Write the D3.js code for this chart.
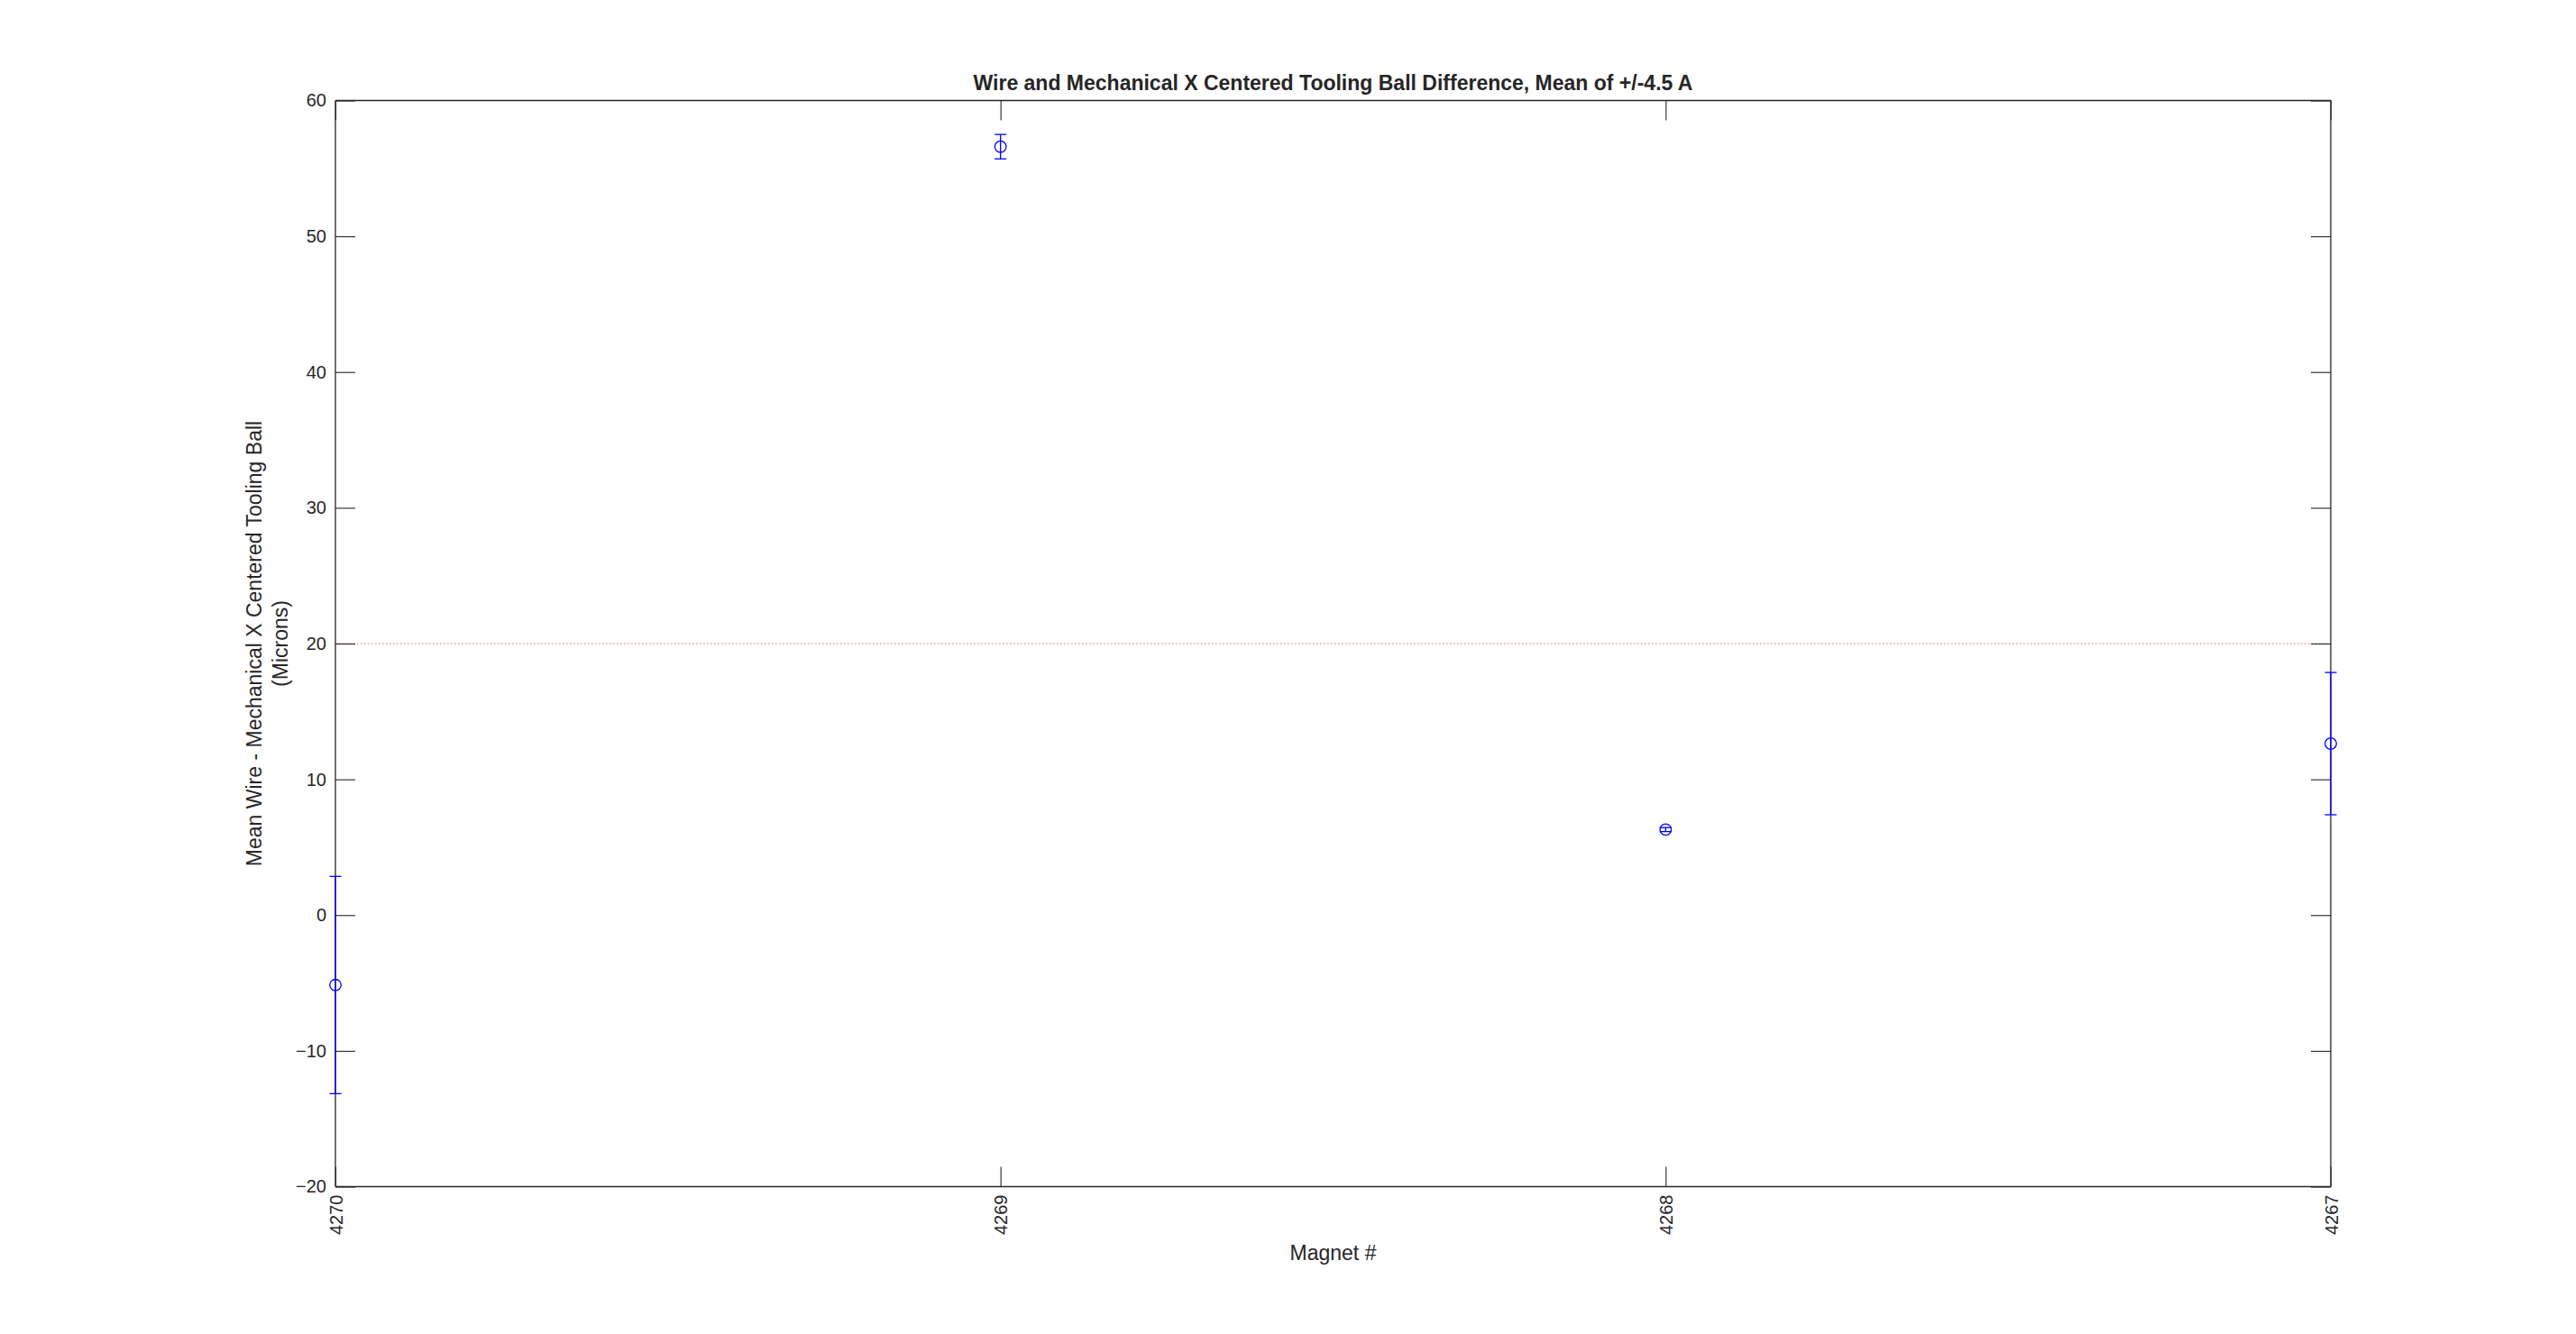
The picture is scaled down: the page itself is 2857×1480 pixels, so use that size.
<!DOCTYPE html>
<html>
<head>
<meta charset="utf-8">
<script src="https://cdn.jsdelivr.net/npm/d3@7"></script>
<style>
  html, body { margin: 0; padding: 0; background: #fff; }
  svg { display: block; }
  text { font-family: "Liberation Sans", Arial, Helvetica, sans-serif; fill: #262626; }
</style>
</head>
<body>
<svg id="chart" width="2857" height="1480"></svg>
<script>
const magnets = ["4270", "4269", "4268", "4267"];
const meanDiff = [-5.15, 56.6, 6.3, 12.63];
const errDiff = [8.0, 0.9, 0.15, 5.24];
const yTicks = [-20, -10, 0, 10, 20, 30, 40, 50, 60];
const limitLines = [20, -20];

const titleText = "Wire and Mechanical X Centered Tooling Ball Difference, Mean of +/-4.5 A";
const xLabelText = "Magnet #";
const yLabelLines = ["Mean Wire - Mechanical X Centered Tooling Ball", "(Microns)"];

const W = 2857, H = 1480;
const L = 372, R = 2585, T = 111.5, B = 1316.5;
const tickLen = 22;

const svg = d3.select("#chart");
svg.append("rect").attr("width", W).attr("height", H).attr("fill", "#fff");

const x = d3.scalePoint().domain(magnets).range([L, R]).padding(0);
const y = d3.scaleLinear().domain([-20, 60]).range([B, T]);

const data = magnets.map((m, i) => ({ m, v: meanDiff[i], e: errDiff[i] }));

// limit lines (red dotted)
svg.append("g").selectAll("line").data(limitLines).join("line")
  .attr("x1", L).attr("x2", R)
  .attr("y1", d => y(d)).attr("y2", d => y(d))
  .attr("stroke", "#ff6a6a").attr("stroke-width", 1.2)
  .attr("stroke-dasharray", "1.6,2.4");

// axes
const axisColor = "#262626";
const gLeft = svg.append("g").attr("transform", `translate(${L},0)`)
  .call(d3.axisLeft(y).tickValues(yTicks).tickSize(-tickLen).tickPadding(10).tickFormat(d3.format("d")));
const gRight = svg.append("g").attr("transform", `translate(${R},0)`)
  .call(d3.axisRight(y).tickValues(yTicks).tickSize(-tickLen).tickFormat(""));
const gBottom = svg.append("g").attr("transform", `translate(0,${B})`)
  .call(d3.axisBottom(x).tickSize(-tickLen).tickFormat(d => d));
const gTop = svg.append("g").attr("transform", `translate(0,${T})`)
  .call(d3.axisTop(x).tickSize(-tickLen).tickFormat(""));

[gLeft, gRight, gBottom, gTop].forEach(g => {
  g.attr("font-size", 20).attr("font-family", '"Liberation Sans", Arial, sans-serif');
  g.select(".domain").attr("stroke", axisColor).attr("stroke-width", 1.3);
  g.selectAll(".tick line").attr("stroke", axisColor).attr("stroke-width", 1.1);
  g.selectAll(".tick text").attr("fill", axisColor);
});
[gLeft, gRight].forEach(g => g.select(".domain").attr("d", `M0,${T}V${B}`));
[gBottom, gTop].forEach(g => g.select(".domain").attr("d", `M${L},0H${R}`));

// rotated x tick labels
gBottom.selectAll(".tick text")
  .attr("transform", "rotate(-90)")
  .attr("x", -9).attr("y", 0).attr("dy", "0.35em")
  .attr("text-anchor", "end");

// error bars
const blue = "#0000ff";
const capHalf = 6.5;
const gErr = svg.append("g");
gErr.selectAll("line.stem").data(data).join("line").attr("class", "stem")
  .attr("x1", d => x(d.m)).attr("x2", d => x(d.m))
  .attr("y1", d => y(d.v + d.e)).attr("y2", d => y(d.v - d.e))
  .attr("stroke", blue).attr("stroke-width", 1.3);
gErr.selectAll("line.capTop").data(data).join("line").attr("class", "capTop")
  .attr("x1", d => x(d.m) - capHalf).attr("x2", d => x(d.m) + capHalf)
  .attr("y1", d => y(d.v + d.e)).attr("y2", d => y(d.v + d.e))
  .attr("stroke", blue).attr("stroke-width", 1.3);
gErr.selectAll("line.capBot").data(data).join("line").attr("class", "capBot")
  .attr("x1", d => x(d.m) - capHalf).attr("x2", d => x(d.m) + capHalf)
  .attr("y1", d => y(d.v - d.e)).attr("y2", d => y(d.v - d.e))
  .attr("stroke", blue).attr("stroke-width", 1.3);
gErr.selectAll("circle").data(data).join("circle")
  .attr("cx", d => x(d.m)).attr("cy", d => y(d.v)).attr("r", 6.3)
  .attr("fill", "none").attr("stroke", blue).attr("stroke-width", 1.3);

// title
svg.append("text")
  .attr("x", (L + R) / 2).attr("y", 100)
  .attr("text-anchor", "middle").attr("font-size", 23).attr("font-weight", "bold")
  .attr("fill", "#000")
  .text(titleText);

// x label
svg.append("text")
  .attr("x", (L + R) / 2).attr("y", 1398)
  .attr("text-anchor", "middle").attr("font-size", 23)
  .text(xLabelText);

// y label
const yl = svg.append("text")
  .attr("transform", `translate(290,${(T + B) / 2}) rotate(-90)`)
  .attr("text-anchor", "middle").attr("font-size", 23);
yl.selectAll("tspan").data(yLabelLines).join("tspan")
  .attr("x", 0).attr("dy", (d, i) => i === 0 ? 0 : 29)
  .text(d => d);
</script>
</body>
</html>
